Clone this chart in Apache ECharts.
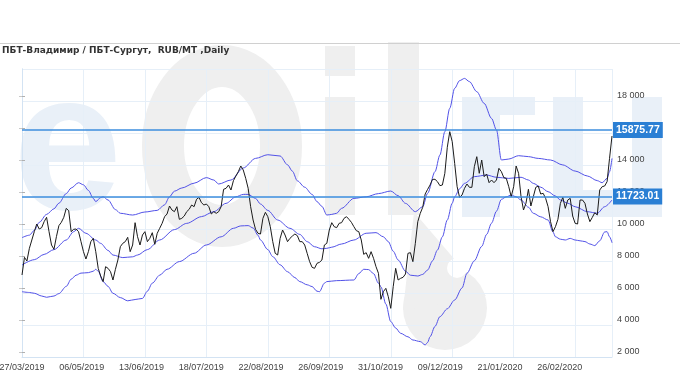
<!DOCTYPE html>
<html>
<head>
<meta charset="utf-8">
<script src="https://cdn.jsdelivr.net/npm/echarts@6/dist/echarts.min.js"></script>
<style>html,body{margin:0;padding:0;background:#fff;}#c{width:680px;height:380px;}</style>
</head>
<body>
<div id="c"></div>
<script>
const titleText = 'ПБТ-Владимир / ПБТ-Сургут,  RUB/MT ,Daily';
const tickLabels = ['27/03/2019','06/05/2019','13/06/2019','18/07/2019','22/08/2019','26/09/2019','31/10/2019','09/12/2019','21/01/2020','26/02/2020'];
const yTicks = [2000,4000,6000,8000,10000,12000,14000,16000,18000];
const levels = [15875.77, 11723.01];

// daily price (trading day index = position)
const priceVals = [
6812,7917,7687,8479,9000,9521,10000,9687,9771,10146,
10417,9521,8687,8417,9208,9896,10104,10417,10979,10833,
9521,9667,9687,9521,8896,8271,7812,8271,8896,9104,
8271,7229,6750,6396,7333,7229,7021,6500,7167,7750,
8583,8792,8896,9167,8271,8687,10083,9208,8687,9312,
9521,8896,9104,9458,8729,9417,9729,10042,10458,10625,
11125,10875,10771,11083,10292,10354,10500,10771,10917,11187,
11083,11542,11667,11333,11187,11250,11083,10625,10771,10667,
10771,11083,12167,12229,12437,12125,12708,13000,13271,13625,
13375,12854,12229,11083,10250,9667,9417,9375,10354,10729,
10458,9833,8896,8167,8062,9104,9625,9312,8896,9104,
9250,9375,9271,8896,8896,8687,8167,7646,7292,7229,
7542,7604,7750,8687,8792,9625,10083,9833,9771,10042,
10083,10354,10458,10292,10104,9833,9583,9521,9000,8104,
8208,7854,8271,7854,7333,6917,5292,5771,5979,5458,
4729,6083,7229,6500,6604,6667,6875,8167,8208,7646,
8792,10146,10667,11042,11875,12167,12437,12792,12792,12646,
12396,12437,13167,14792,15771,15146,13792,12333,11667,11812,
12229,12500,12292,12292,13583,14208,13167,14000,12958,13125,
12583,12750,12583,12750,13479,13271,12896,12854,12333,11708,
12333,13625,13167,11708,10875,11292,12167,11125,11708,12292,
12375,11875,11917,11604,11083,10146,9521,9833,10292,11292,
11667,10979,11500,11604,10500,10042,10000,11500,11500,11292,
10625,10146,10417,10708,10562,12125,12333,12375,12646,14104,
15500
];

const upperDays = [0,3,5,7,10,13,15,18,20,23,25,27,29,30,32,33,35,38,40,45,50,55,58,60,62,65,70,75,78,80,85,90,95,100,105,108,110,112,115,118,120,122,124,126,128,130,135,140,145,150,153,156,160,163,165,168,170,172,174,176,178,180,182,185,188,191,193,195,198,202,206,210,215,220,225,230,234,236,238,239,240];
const upperVals = [9146,9300,9600,10100,10600,10950,11300,11900,12250,12580,12450,12100,11600,11400,11650,11700,11500,10900,10670,10560,10750,10850,11200,11700,12050,12250,12550,12900,12750,12500,12750,13500,14100,14330,14250,13700,13300,12700,12300,11850,11400,11100,10560,10600,10670,10980,11600,11700,11900,12060,11770,11290,10770,11080,11920,13270,14310,15770,17230,18480,18960,19100,18900,18270,17540,16600,15880,14000,14060,14270,14210,14100,14000,13690,13310,13000,12710,12580,12850,13270,14100];

const middleDays = [0,5,9,13,18,21,23,26,30,32,35,37,41,45,47,51,56,62,67,73,78,83,87,90,92,95,97,100,104,109,113,116,119,122,124,126,130,135,140,144,147,149,151,153,156,158,161,163,165,167,169,171,173,175,176,178,180,184,189,193,198,203,206,208,211,214,217,219,222,225,230,234,237,240];
const middleVals = [7437,7770,8100,8400,9000,9520,9730,9420,9000,8790,8350,8060,7900,7950,8060,8400,9000,9650,10040,10460,10770,11290,11700,11850,11850,11600,11250,10850,10250,9730,9350,8900,8580,8450,8480,8550,8750,9000,9420,9460,9200,8900,8300,7750,7050,6800,6750,6850,7125,7700,8375,9200,10250,11300,11700,12200,12540,12960,13060,12920,12850,12920,12750,12540,12300,12020,11750,11500,11300,11080,10770,10670,11080,11500];

const lowerDays = [0,3,5,8,10,13,15,18,20,22,24,27,29,30,31,33,35,37,40,43,46,49,51,53,56,59,64,70,75,81,86,89,92,94,96,97,100,102,105,108,111,113,116,118,120,121,123,124,128,135,137,139,141,143,145,146,148,150,152,154,157,159,162,164,165,166,168,170,173,176,179,181,184,187,189,191,193,195,197,199,201,203,206,208,211,214,216,217,219,221,223,225,227,229,231,233,235,237,238,239,240];
const lowerVals = [5770,5720,5670,5500,5420,5500,5650,6100,6550,6800,6930,6960,7050,7170,7050,6400,6100,5670,5400,5200,5280,5350,5800,6300,6800,7170,7650,8170,8690,9200,9730,9880,9900,9750,9300,9000,8400,7960,7450,7020,6650,6400,6200,6090,5800,5770,6300,6400,6460,6500,6900,7170,7150,6900,6300,6080,5000,3900,3500,3170,2950,2750,2650,2440,2600,2960,3600,4210,4700,5250,6000,6920,7700,8600,9350,10050,10800,11540,11700,11810,11700,11500,11050,10670,10450,10250,9500,9200,9050,9000,9100,9000,8950,8900,8750,8650,8950,9500,9520,9200,8830];

const pairs = (days, vals) => days.map((d, i) => [d, vals[i]]);
const fmtThousands = v => String(v).replace(/\B(?=(\d{3})+(?!\d))/g, ' ');

const WM_GRAY = '#efefef', WM_BLUE = '#e9f0f8';
const wm = [
  {type:'text', x:13, y:155, z:-10, silent:true, style:{text:'e', fontSize:196, fontWeight:'bold', fontFamily:'Liberation Sans', fill:WM_BLUE, align:'left', verticalAlign:'middle'}},
  {type:'ellipse', z:-10, silent:true, shape:{cx:222, cy:146, rx:59, ry:80}, style:{fill:'none', stroke:WM_GRAY, lineWidth:42}},
  {type:'rect', z:-10, silent:true, shape:{x:325, y:46, width:30, height:30}, style:{fill:WM_GRAY}},
  {type:'rect', z:-10, silent:true, shape:{x:325, y:97, width:30, height:118}, style:{fill:WM_GRAY}},
  {type:'rect', z:-10, silent:true, shape:{x:388, y:42, width:31, height:173}, style:{fill:WM_GRAY}},
  {type:'circle', z:-10, silent:true, shape:{cx:445, cy:308, r:42}, style:{fill:WM_GRAY}},
  {type:'polygon', z:-10, silent:true, shape:{points:[[414,212],[486,296],[403,310]]}, style:{fill:WM_GRAY}},
  {type:'circle', z:-9, silent:true, shape:{cx:457, cy:268, r:10}, style:{fill:'#ffffff'}},
  {type:'rect', z:-10, silent:true, shape:{x:462, y:97, width:38, height:120}, style:{fill:WM_BLUE}},
  {type:'rect', z:-10, silent:true, shape:{x:500, y:97, width:35, height:18}, style:{fill:WM_BLUE}},
  {type:'rect', z:-10, silent:true, shape:{x:553, y:97, width:30, height:120}, style:{fill:WM_BLUE}},
  {type:'rect', z:-10, silent:true, shape:{x:632, y:97, width:30, height:120}, style:{fill:WM_BLUE}},
  {type:'rect', z:-10, silent:true, shape:{x:553, y:190, width:109, height:27}, style:{fill:WM_BLUE}},
  {type:'line', z:5, silent:true, shape:{x1:0, y1:43.5, x2:680, y2:43.5}, style:{stroke:'#d0d0d0', lineWidth:1}}
];

const chart = echarts.init(document.getElementById('c'), null, {renderer:'canvas'});
const AXIS_BLUE = '#d3e3f3', GRID_BLUE = '#e6eff8';
const bandLine = (name, days, vals) => ({
  name, type:'line', data: pairs(days, vals), showSymbol:false, symbol:'none',
  smooth:0.3, smoothMonotone:'x', z:3, silent:true,
  lineStyle:{color:'#5252e8', width:1}
});
chart.setOption({
  animation:false,
  backgroundColor:'#ffffff',
  title:{text:titleText, left:2, top:46, padding:0,
    textStyle:{fontSize:9, fontWeight:'bold', fontFamily:'"DejaVu Sans", sans-serif', color:'#333'}},
  grid:{left:22, right:68, top:69, bottom:23, containLabel:false, outerBoundsMode:'none'},
  xAxis:[
    {type:'value', min:0, max:240, interval:25,
      axisLine:{show:true, lineStyle:{color:AXIS_BLUE}},
      axisTick:{show:false}, axisLabel:{show:false},
      splitLine:{show:true, lineStyle:{color:GRID_BLUE, width:1}}},
    {type:'value', position:'bottom', min:0, max:246.9, interval:25,
      axisLine:{show:false}, axisTick:{show:false}, splitLine:{show:false},
      axisLabel:{margin:6, fontSize:9, fontFamily:'"Liberation Sans", sans-serif', color:'#444',
        showMinLabel:true, showMaxLabel:true, hideOverlap:false,
        formatter:v => { const k = v / 25; return (Number.isInteger(k) && k < tickLabels.length) ? tickLabels[k] : ''; }}}
  ],
  yAxis:[
    {type:'value', position:'right', min:1687.5, max:19687.5,
      axisLine:{show:true, lineStyle:{color:AXIS_BLUE}},
      axisTick:{show:true, length:3, customValues:yTicks, lineStyle:{color:'#b0b0b0'}},
      splitLine:{show:false},
      axisLabel:{customValues:yTicks, margin:5, fontSize:9, fontFamily:'"Liberation Sans", sans-serif', color:'#444', formatter:v => fmtThousands(v)}},
    {type:'value', position:'left', min:1687.5, max:19687.5, interval:2000,
      axisLine:{show:true, lineStyle:{color:AXIS_BLUE}},
      axisTick:{show:false}, axisLabel:{show:false},
      splitLine:{show:true, lineStyle:{color:GRID_BLUE, width:1}}},
    {type:'value', position:'left', min:1687.5, max:19687.5,
      axisLine:{show:false},
      axisTick:{show:true, length:3, customValues:yTicks, lineStyle:{color:'#c8c8c8'}},
      axisLabel:{show:false}, splitLine:{show:false}}
  ],
  graphic:{elements:wm},
  series:[
    bandLine('upper', upperDays, upperVals),
    bandLine('middle', middleDays, middleVals),
    bandLine('lower', lowerDays, lowerVals),
    {name:'price', type:'line', data: priceVals.map((v, i) => [i, v]), showSymbol:false, symbol:'none',
      z:4, silent:true, lineStyle:{color:'#1b1b1b', width:1},
      markLine:{silent:true, symbol:'none', animation:false,
        lineStyle:{color:'#3d8ede', width:1.5, type:'solid'},
        label:{show:true, position:'end', distance:1, formatter:p => levels[p.dataIndex].toFixed(2),
          backgroundColor:'#2a7fd4', color:'#fff', fontWeight:'bold', fontSize:10.5,
          fontFamily:'"Liberation Sans", sans-serif', padding:[3,3,2,3]},
        data: levels.map(v => ({yAxis:v}))}
    }
  ]
});
</script>
</body>
</html>
